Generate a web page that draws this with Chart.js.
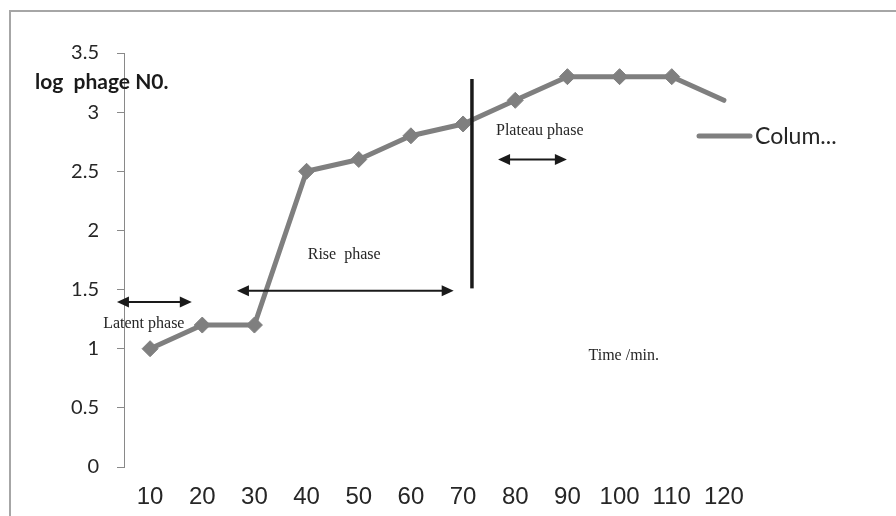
<!DOCTYPE html>
<html>
<head>
<meta charset="utf-8">
<script src="https://cdn.jsdelivr.net/npm/chart.js@4.4.0/dist/chart.umd.min.js"></script>
<style>
    html, body { margin: 0; padding: 0; background: #fff; }
    #wrap { position: relative; width: 896px; height: 516px; overflow: hidden; }
    #frame { position: absolute; left: 9px; top: 10px; width: 900px; height: 520px;
             border-top: 2px solid #a6a6a6; border-left: 2px solid #a6a6a6; }
    canvas { position: absolute; left: 0; top: 0; }
</style>
</head>
<body>
<div id="wrap">
    <div id="frame"></div>
    <canvas id="phageChart" width="896" height="516"></canvas>
</div>
<script>
// Chart data
const timeLabels = ['10', '20', '30', '40', '50', '60', '70', '80', '90', '100', '110', '120'];
const logPhage = [1, 1.2, 1.2, 2.5, 2.6, 2.8, 2.9, 3.1, 3.3, 3.3, 3.3, 3.1];
const seriesName = 'Colum...';
const yMin = 0;
const yMax = 3.5;
const yStep = 0.5;
const yAxisTitle = 'log  phage N0.';

// Phase notes, in data units (x = category index, y = value)
const phaseArrows = [
    { from: -0.635, to: 0.8, y: 1.395 },
    { from: 1.665, to: 5.82, y: 1.49 },
    { from: 6.67, to: 7.99, y: 2.6 }
];
const phaseTexts = [
    { text: 'Latent phase', x: -0.12, y: 1.21 },
    { text: 'Rise  phase', x: 3.72, y: 1.79 },
    { text: 'Plateau phase', x: 7.47, y: 2.84 },
    { text: 'Time /min.', x: 9.08, y: 0.94 }
];
const phaseDivider = { x: 6.17, from: 1.51, to: 3.28 };

const lineColor = '#7f7f7f';

// Draws arrows, phase labels, divider, axis title and legend
const notesPlugin = {
    id: 'notes',
    afterDatasetsDraw(chart) {
        const ctx = chart.ctx;
        const xs = chart.scales.x;
        const ys = chart.scales.y;
        ctx.save();

        // divider line
        ctx.strokeStyle = '#1a1a1a';
        ctx.lineWidth = 3.5;
        ctx.beginPath();
        ctx.moveTo(xs.getPixelForValue(phaseDivider.x), ys.getPixelForValue(phaseDivider.from));
        ctx.lineTo(xs.getPixelForValue(phaseDivider.x), ys.getPixelForValue(phaseDivider.to));
        ctx.stroke();

        // double headed arrows
        ctx.fillStyle = '#1a1a1a';
        ctx.lineWidth = 2;
        phaseArrows.forEach(a => {
            const x1 = xs.getPixelForValue(a.from);
            const x2 = xs.getPixelForValue(a.to);
            const y = ys.getPixelForValue(a.y);
            ctx.beginPath();
            ctx.moveTo(x1 + 8, y);
            ctx.lineTo(x2 - 8, y);
            ctx.stroke();
            ctx.beginPath();
            ctx.moveTo(x1, y);
            ctx.lineTo(x1 + 12, y - 5.5);
            ctx.lineTo(x1 + 12, y + 5.5);
            ctx.closePath();
            ctx.fill();
            ctx.beginPath();
            ctx.moveTo(x2, y);
            ctx.lineTo(x2 - 12, y - 5.5);
            ctx.lineTo(x2 - 12, y + 5.5);
            ctx.closePath();
            ctx.fill();
        });

        // phase labels
        ctx.fillStyle = '#262626';
        ctx.font = '16px "Liberation Serif", "Times New Roman", serif';
        ctx.textAlign = 'center';
        ctx.textBaseline = 'middle';
        phaseTexts.forEach(t => {
            ctx.fillText(t.text, xs.getPixelForValue(t.x), ys.getPixelForValue(t.y));
        });

        // y axis title
        ctx.fillStyle = '#1a1a1a';
        ctx.font = 'bold 21px Lato, sans-serif';
        ctx.textAlign = 'left';
        ctx.fillText(yAxisTitle, 35, ys.getPixelForValue(3.25));

        // legend
        const ly = 136;
        ctx.strokeStyle = lineColor;
        ctx.lineWidth = 5;
        ctx.lineCap = 'round';
        ctx.beginPath();
        ctx.moveTo(699, ly);
        ctx.lineTo(750, ly);
        ctx.stroke();
        ctx.fillStyle = '#262626';
        ctx.font = '23px Lato, sans-serif';
        ctx.fillText(chart.data.datasets[0].label, 755, ly + 1);

        ctx.restore();
    }
};

const chart = new Chart(document.getElementById('phageChart').getContext('2d'), {
    type: 'line',
    data: {
        labels: timeLabels,
        datasets: [{
            label: seriesName,
            data: logPhage,
            borderColor: lineColor,
            backgroundColor: lineColor,
            borderWidth: 5,
            borderCapStyle: 'round',
            borderJoinStyle: 'round',
            tension: 0,
            pointStyle: 'rectRot',
            pointRadius: (c) => c.dataIndex === logPhage.length - 1 ? 0 : 8,
            pointBorderWidth: 1,
            pointBorderColor: lineColor,
            pointBackgroundColor: lineColor
        }]
    },
    options: {
        responsive: false,
        animation: false,
        devicePixelRatio: 1,
        layout: { padding: { left: 0, right: 146, top: 53, bottom: 0 } },
        plugins: {
            legend: { display: false },
            tooltip: { enabled: false }
        },
        scales: {
            x: {
                type: 'category',
                offset: true,
                afterFit: (s) => { s.height = 49; },
                grid: { display: false, drawTicks: false },
                border: { display: false },
                ticks: {
                    color: '#262626',
                    padding: 16,
                    maxRotation: 0,
                    autoSkip: false,
                    font: { family: '"Liberation Sans", Arial, sans-serif', size: 24 }
                }
            },
            y: {
                min: yMin,
                max: yMax,
                afterFit: (s) => { s.width = 124; },
                grid: { drawOnChartArea: false, drawTicks: true, tickLength: 7, color: '#898989' },
                border: { display: true, color: '#898989', width: 1 },
                ticks: {
                    stepSize: yStep,
                    color: '#262626',
                    padding: 18,
                    callback: (v) => String(Number(v)),
                    font: { family: 'Lato, sans-serif', size: 20 }
                }
            }
        }
    },
    plugins: [notesPlugin]
});
</script>
</body>
</html>
